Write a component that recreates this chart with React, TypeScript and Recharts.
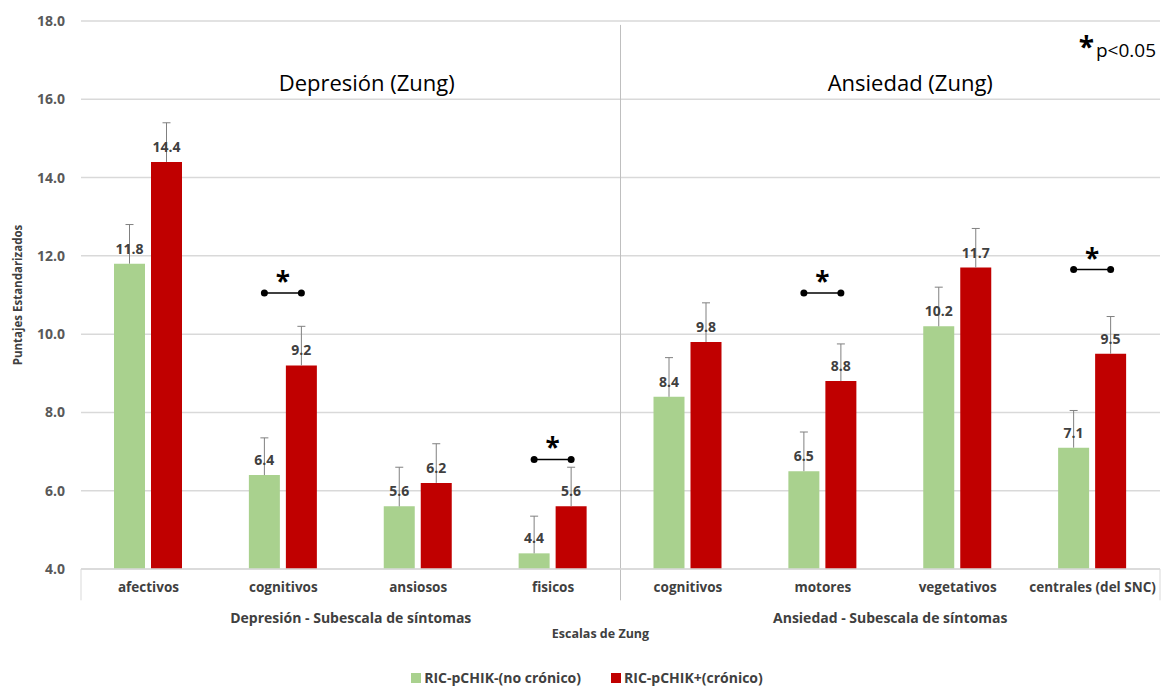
import {
  Bar,
  BarChart,
  CartesianGrid,
  Label,
  LabelList,
  Legend,
  ReferenceArea,
  ReferenceLine,
  XAxis,
  YAxis,
} from "recharts"

const categories = [
  "afectivos",
  "cognitivos",
  "ansiosos",
  "fisicos",
  "cognitivos",
  "motores",
  "vegetativos",
  "centrales (del SNC)",
]
const groupOf = [
  "Depresión - Subescala de síntomas",
  "Depresión - Subescala de síntomas",
  "Depresión - Subescala de síntomas",
  "Depresión - Subescala de síntomas",
  "Ansiedad - Subescala de síntomas",
  "Ansiedad - Subescala de síntomas",
  "Ansiedad - Subescala de síntomas",
  "Ansiedad - Subescala de síntomas",
]
const noCronico = [11.8, 6.4, 5.6, 4.4, 8.4, 6.5, 10.2, 7.1]
const cronico = [14.4, 9.2, 6.2, 5.6, 9.8, 8.8, 11.7, 9.5]
const errNoCronico = [1.0, 0.95, 1.0, 0.95, 1.0, 1.0, 1.0, 0.95]
const errCronico = [1.0, 1.0, 1.0, 1.0, 1.0, 0.95, 1.0, 0.95]
// height of the "*" bracket, null = no significant difference
const significance = [null, 11.05, null, 6.8, null, 11.05, null, 11.65]
const yTicks = [4, 6, 8, 10, 12, 14, 16, 18]

const FONT = "'Open Sans', sans-serif"
const GREEN = "#a9d18e"
const RED = "#c00000"
const TEXT = "#404040"
const BAR_SIZE = 31
const BAR_GAP = 6
const Y_MIN = 4

const series = [
  { key: "noCronico", name: "RIC-pCHIK-(no crónico)", color: GREEN },
  { key: "cronico", name: "RIC-pCHIK+(crónico)", color: RED },
]

const data = categories.map((name, i) => ({
  id: "c" + i,
  name,
  group: groupOf[i],
  noCronico: noCronico[i],
  cronico: cronico[i],
}))

const getBox = (props: any) => props.viewBox ?? props

// plus-only error whisker, scaled from the rendered bar
const makeWhisker = (values: number[], errs: number[]) => (props: any) => {
  const { x, y, width, height } = getBox(props)
  const i = props.index
  const k = height / (values[i] - Y_MIN)
  const cx = x + width / 2
  const top = y - errs[i] * k
  return (
    <g>
      <line x1={cx} x2={cx} y1={y} y2={top} stroke="#808080" strokeWidth={1} />
      <line x1={cx - 4} x2={cx + 4} y1={top} y2={top} stroke="#808080" strokeWidth={1} />
    </g>
  )
}

const SigMarker = (props: any) => {
  const { x, y, width, height } = getBox(props)
  const index = props.index
  const sig = significance[index]
  if (sig == null) return null
  const k = height / (cronico[index] - Y_MIN)
  const ly = y + height - (sig - Y_MIN) * k
  const x2 = x + width / 2
  const x1 = x - BAR_GAP - BAR_SIZE / 2
  return (
    <g>
      <line x1={x1} x2={x2} y1={ly} y2={ly} stroke="#000" strokeWidth={1.5} />
      <circle cx={x1} cy={ly} r={3.5} fill="#000" />
      <circle cx={x2} cy={ly} r={3.5} fill="#000" />
      <text
        x={(x1 + x2) / 2}
        y={ly - 2}
        textAnchor="middle"
        fontSize={26}
        fontWeight={700}
        fontFamily={FONT}
        fill="#000"
      >
        *
      </text>
    </g>
  )
}

const PValue = (props: any) => {
  const { x, y, width } = props.viewBox
  return (
    <text x={x + width - 4} y={y + 36} textAnchor="end" fontFamily={FONT} fill="#000">
      <tspan fontSize={28} fontWeight={700}>*</tspan>
      <tspan fontSize={19} dx={2}>p&lt;0.05</tspan>
    </text>
  )
}

const LegendContent = () => (
  <div
    style={{
      display: "flex",
      justifyContent: "center",
      gap: 30,
      fontFamily: FONT,
      fontWeight: 700,
      fontSize: 14,
      color: TEXT,
      paddingLeft: 14,
    }}
  >
    {series.map((s) => (
      <span key={s.key} style={{ display: "flex", alignItems: "center", gap: 3 }}>
        <span style={{ width: 10, height: 10, background: s.color, display: "inline-block" }} />
        {s.name}
      </span>
    ))}
  </div>
)

const tickStyle = { fontFamily: FONT, fontWeight: 700, fontSize: 13.5, fill: TEXT }
const valueStyle = { fontFamily: FONT, fontWeight: 700, fontSize: 14, fill: TEXT }

export default function App() {
  return (
    <div style={{ position: "absolute", left: 0, top: 0, background: "#fff" }}>
      <BarChart
        width={1165}
        height={688}
        data={data}
        margin={{ top: 21, right: 5, bottom: 0, left: 0 }}
        barSize={BAR_SIZE}
        barGap={BAR_GAP}
      >
        <CartesianGrid vertical={false} stroke="#d9d9d9" strokeWidth={1.5} />
        <XAxis
          dataKey="id"
          tickFormatter={(_v: string, i: number) => categories[i]}
          tick={tickStyle}
          tickLine={false}
          axisLine={{ stroke: "#d9d9d9", strokeWidth: 1.5 }}
          tickMargin={7}
          height={35}
          interval={0}
        />
        <XAxis
          xAxisId="group"
          dataKey="group"
          allowDuplicatedCategory={false}
          tick={{ ...tickStyle, fontSize: 14 }}
          tickLine={false}
          axisLine={false}
          tickSize={0}
          tickMargin={9}
          height={64}
        >
          <Label
            value="Escalas de Zung"
            position="insideTop"
            offset={25}
            dx={-20}
            style={{ fontFamily: FONT, fontWeight: 700, fontSize: 12.5, fill: TEXT }}
          />
        </XAxis>
        <YAxis
          width={81}
          domain={[4, 18]}
          ticks={yTicks}
          tickFormatter={(v: number) => v.toFixed(1)}
          tick={{ ...tickStyle, fontSize: 14, fill: "#595959" }}
          tickLine={false}
          axisLine={false}
          tickMargin={10}
        >
          <Label
            value="Puntajes Estandarizados"
            angle={-90}
            position="insideLeft"
            offset={18}
            style={{ fontFamily: FONT, fontWeight: 700, fontSize: 11.5, fill: TEXT, textAnchor: "middle" }}
          />
        </YAxis>
        <ReferenceArea
          x1="c0"
          x2="c3"
          y1={4}
          y2={18}
          fillOpacity={0}
          strokeOpacity={0}
          ifOverflow="visible"
        >
          <Label
            value="Depresión (Zung)"
            position="insideTop"
            offset={54}
            dx={16}
            style={{ fontFamily: FONT, fontSize: 22, fill: "#000" }}
          />
        </ReferenceArea>
        <ReferenceArea
          x1="c4"
          x2="c7"
          y1={4}
          y2={18}
          fillOpacity={0}
          strokeOpacity={0}
          ifOverflow="visible"
        >
          <Label
            value="Ansiedad (Zung)"
            position="insideTop"
            offset={54}
            dx={20}
            style={{ fontFamily: FONT, fontSize: 22, fill: "#000" }}
          />
          <Label content={PValue} />
        </ReferenceArea>
        <ReferenceLine
          segment={[
            { x: "c4", y: 17.9 },
            { x: "c4", y: 3.2 },
          ]}
          position="start"
          stroke="#bfbfbf"
          ifOverflow="visible"
        />
        <ReferenceLine
          segment={[
            { x: "c0", y: 4 },
            { x: "c0", y: 3.2 },
          ]}
          position="start"
          stroke="#d9d9d9"
          ifOverflow="visible"
        />
        <ReferenceLine
          segment={[
            { x: "c7", y: 4 },
            { x: "c7", y: 3.2 },
          ]}
          position="end"
          stroke="#d9d9d9"
          ifOverflow="visible"
        />
        <Legend verticalAlign="bottom" height={20} content={LegendContent} />
        <Bar dataKey="noCronico" name={series[0].name} fill={GREEN} isAnimationActive={false}>
          <LabelList dataKey="noCronico" content={makeWhisker(noCronico, errNoCronico)} />
          <LabelList
            dataKey="noCronico"
            position="top"
            offset={10}
            formatter={(v: number) => v.toFixed(1)}
            style={valueStyle}
          />
        </Bar>
        <Bar dataKey="cronico" name={series[1].name} fill={RED} isAnimationActive={false}>
          <LabelList dataKey="cronico" content={makeWhisker(cronico, errCronico)} />
          <LabelList
            dataKey="cronico"
            position="top"
            offset={10}
            formatter={(v: number) => v.toFixed(1)}
            style={valueStyle}
          />
          <LabelList dataKey="cronico" content={SigMarker} />
        </Bar>
      </BarChart>
    </div>
  )
}
